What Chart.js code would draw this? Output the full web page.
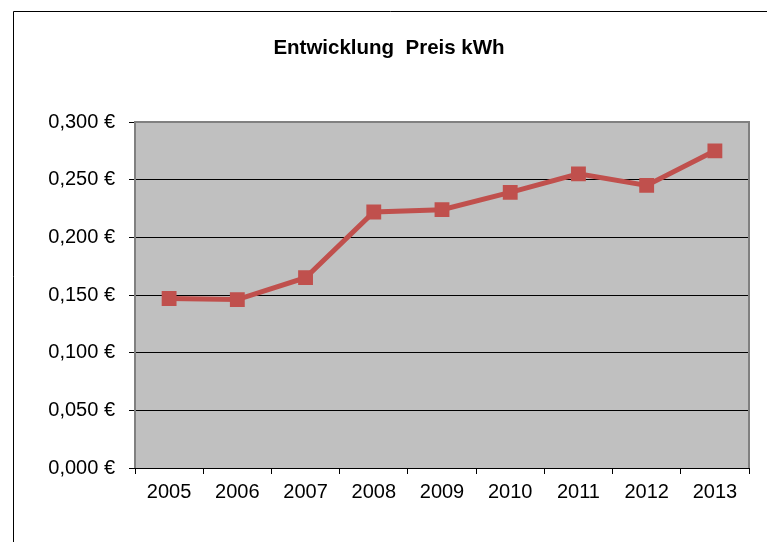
<!DOCTYPE html>
<html>
<head>
<meta charset="utf-8">
<script src="https://cdn.jsdelivr.net/npm/chart.js@4.4.0/dist/chart.umd.min.js"></script>
<style>
  html, body { margin: 0; padding: 0; background: #fff; overflow: hidden; }
  #wrap { width: 767px; height: 542px; }
  canvas { display: block; }
</style>
</head>
<body>
<div id="wrap"><canvas id="preis-chart"></canvas></div>
<script>
const jahre = ['2005', '2006', '2007', '2008', '2009', '2010', '2011', '2012', '2013'];
const preise = [0.147, 0.146, 0.165, 0.222, 0.224, 0.239, 0.255, 0.245, 0.275];
const titel = 'Entwicklung  Preis kWh';
const yMin = 0, yMax = 0.3, yStep = 0.05;

const rot = '#c0504d';
const grau = '#808080';

// Rahmen, Hintergrund und Titel selbst zeichnen
const rahmenPlugin = {
    id: 'rahmen',
    beforeDraw(chart) {
        const c = chart.ctx, a = chart.chartArea;
        c.save();
        c.fillStyle = '#c0c0c0';
        c.fillRect(a.left, a.top, a.right - a.left, a.bottom - a.top);
        // aeusserer Rahmen (nur oben und links sichtbar)
        c.strokeStyle = '#000';
        c.lineWidth = 1;
        c.beginPath();
        c.moveTo(13.5, 542);
        c.lineTo(13.5, 11.5);
        c.lineTo(chart.width, 11.5);
        c.stroke();
        // Titel
        c.fillStyle = '#000';
        c.font = 'bold 20.5px "Liberation Sans", Arial, sans-serif';
        c.textAlign = 'center';
        c.textBaseline = 'middle';
        c.fillText(titel, 389, 48);
        c.restore();
    },
    beforeDatasetsDraw(chart) {
        const c = chart.ctx, a = chart.chartArea;
        c.save();
        c.strokeStyle = grau;
        c.lineWidth = 2;
        c.beginPath();
        c.moveTo(a.left, a.bottom);
        c.lineTo(a.left, a.top);
        c.lineTo(a.right, a.top);
        c.lineTo(a.right, a.bottom);
        c.stroke();
        c.strokeStyle = '#000';
        c.lineWidth = 1;
        c.beginPath();
        c.moveTo(a.left - 6, a.bottom + 0.5);
        c.lineTo(a.right + 1, a.bottom + 0.5);
        c.stroke();
        c.restore();
    }
};

const ctx = document.getElementById('preis-chart').getContext('2d');
new Chart(ctx, {
    type: 'line',
    data: {
        labels: jahre,
        datasets: [{
            label: 'Preis kWh',
            data: preise,
            borderColor: rot,
            backgroundColor: rot,
            borderWidth: 5,
            pointStyle: 'rect',
            pointRadius: 10.5,
            pointHoverRadius: 10.5,
            pointBorderWidth: 0,
            tension: 0
        }]
    },
    options: {
        responsive: true,
        maintainAspectRatio: false,
        animation: false,
        layout: { padding: { top: 122, right: 18, left: 0, bottom: 0 } },
        plugins: {
            legend: { display: false },
            title: { display: false },
            tooltip: { enabled: false }
        },
        scales: {
            x: {
                offset: true,
                grid: {
                    offset: true,
                    drawOnChartArea: false,
                    drawTicks: true,
                    tickLength: 6,
                    color: '#000'
                },
                border: { display: false },
                ticks: {
                    color: '#000',
                    padding: 6,
                    maxRotation: 0,
                    font: { family: '"Liberation Sans", Arial, sans-serif', size: 20 }
                },
                afterFit(scale) { scale.height = 74; }
            },
            y: {
                min: yMin,
                max: yMax,
                grid: {
                    color: ctx => ctx.tick && ctx.tick.value >= yMax ? 'rgba(0,0,0,0)' : '#000',
                    lineWidth: 1,
                    tickLength: 6,
                    tickColor: '#000'
                },
                border: { display: false },
                ticks: {
                    stepSize: yStep,
                    color: '#000',
                    padding: 14,
                    font: { family: '"Liberation Sans", Arial, sans-serif', size: 20 },
                    callback: v => v.toFixed(3).replace('.', ',') + ' €'
                },
                afterFit(scale) { scale.width = 135; }
            }
        }
    },
    plugins: [rahmenPlugin]
});
</script>
</body>
</html>
